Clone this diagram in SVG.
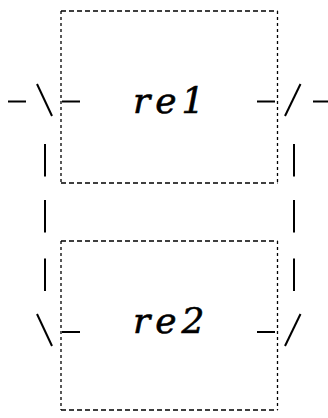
<svg xmlns="http://www.w3.org/2000/svg" width="328" height="418" viewBox="0 0 328 418">
<style>
.box{fill:none;stroke:#000;stroke-width:1.3}
.h{stroke-dasharray:5 3}
.v{stroke-dasharray:3 3}
.c line{stroke:#000;stroke-width:2;stroke-linecap:butt}
.lbl{font-family:"DejaVu Serif","Liberation Serif",serif;font-style:italic;font-size:36px;letter-spacing:5px;stroke:#000;stroke-width:0.6;fill:#000}
</style>
<rect width="328" height="418" fill="#fff"/>
<g id="re1">
<line class="box h" x1="61" y1="11" x2="277.5" y2="11"/>
<line class="box h" x1="61" y1="183" x2="277.5" y2="183"/>
<line class="box v" x1="61" y1="11" x2="61" y2="183"/>
<line class="box v" x1="277.5" y1="11" x2="277.5" y2="183"/>
<text class="lbl" x="133" y="113">re1</text>
</g>
<g id="re2">
<line class="box h" x1="61" y1="241" x2="277.5" y2="241"/>
<line class="box h" x1="61" y1="410" x2="277.5" y2="410"/>
<line class="box v" x1="61" y1="241" x2="61" y2="410"/>
<line class="box v" x1="277.5" y1="241" x2="277.5" y2="410"/>
<text class="lbl" x="133" y="333">re2</text>
</g>
<g id="connectors" class="c">
<line x1="8" y1="101.5" x2="26" y2="101.5"/>
<line x1="37" y1="84" x2="52" y2="116"/>
<line x1="62" y1="101.5" x2="80" y2="101.5"/>
<line x1="257" y1="101.5" x2="275" y2="101.5"/>
<line x1="285" y1="116" x2="300.5" y2="84"/>
<line x1="313" y1="101.5" x2="328" y2="101.5"/>
<line x1="45" y1="144" x2="45" y2="176.5"/>
<line x1="45" y1="200" x2="45" y2="232.5"/>
<line x1="45" y1="258.5" x2="45" y2="291"/>
<line x1="294" y1="144" x2="294" y2="176.5"/>
<line x1="294" y1="200" x2="294" y2="232.5"/>
<line x1="294" y1="258.5" x2="294" y2="291"/>
<line x1="37" y1="314" x2="52" y2="346"/>
<line x1="62" y1="332" x2="80" y2="332"/>
<line x1="257" y1="332" x2="275" y2="332"/>
<line x1="285" y1="346" x2="300.5" y2="314"/>
</g>
</svg>
